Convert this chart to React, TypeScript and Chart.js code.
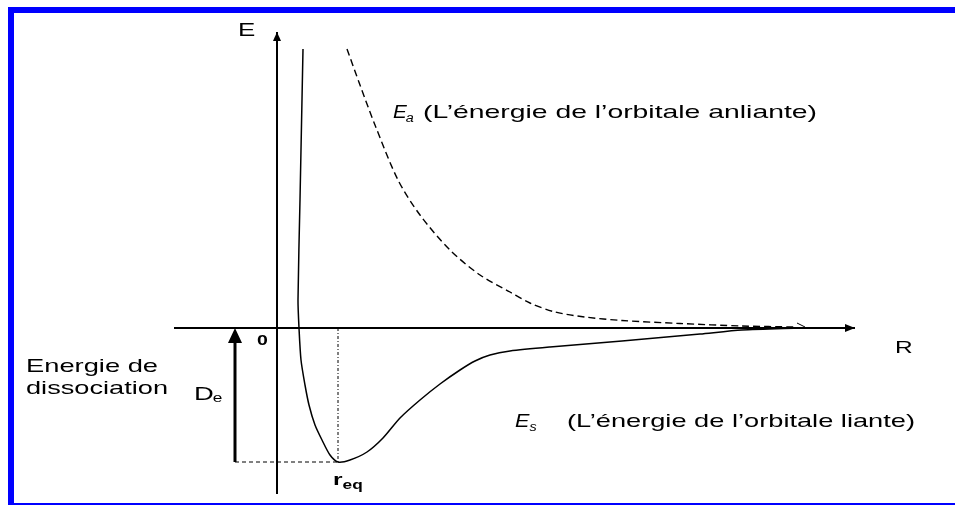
import React, { useEffect, useRef } from "react";
import { Chart, registerables } from "chart.js";

Chart.register(...registerables);

// Bonding orbital energy E_s (solid curve): R and E values
const solidR = [0.26, 0.23, 0.21, 0.22, 0.24, 0.28, 0.32, 0.38, 0.45, 0.53, 0.61, 0.73, 0.90, 1.06, 1.23, 1.43, 1.63, 1.83, 1.98, 2.13, 2.33, 2.73, 3.45, 4.23, 4.65, 5.23];
const solidE = [2.79, 1.28, 0.28, 0.0, -0.32, -0.57, -0.77, -0.97, -1.12, -1.27, -1.34, -1.32, -1.24, -1.10, -0.90, -0.72, -0.56, -0.42, -0.33, -0.27, -0.23, -0.19, -0.13, -0.06, -0.02, 0.0];

// Antibonding orbital energy E_a (dashed curve)
const dashR = [0.70, 0.83, 0.98, 1.21, 1.43, 1.73, 2.03, 2.33, 2.53, 2.78, 3.08, 3.45, 4.03, 4.65, 5.18];
const dashE = [2.79, 2.43, 2.03, 1.48, 1.13, 0.78, 0.53, 0.36, 0.25, 0.16, 0.11, 0.075, 0.045, 0.02, 0.01];

// Axes extents
const axisR = [-1.03, 5.78];
const axisE = [-1.66, 2.96];

// Equilibrium
const rEq = 0.61;
const eMin = -1.34;
const deArrowR = -0.42;

// View window
const viewR = [-2.77, 6.78];
const viewE = [-1.77, 3.28];

const FONT = '"Liberation Sans", Arial, Helvetica, sans-serif';
const SX = 1.44;

function txt(ctx: CanvasRenderingContext2D, text: string, x: number, y: number, font: string, sx = SX, width?: number): number {
  ctx.save();
  ctx.font = font;
  ctx.fillStyle = "#000";
  ctx.textBaseline = "alphabetic";
  ctx.textAlign = "left";
  const m = ctx.measureText(text).width;
  const s = width ? width / m : sx;
  ctx.translate(x, y);
  ctx.scale(s, 1);
  ctx.fillText(text, 0, 0);
  ctx.restore();
  return m * s;
}

function arrowHead(ctx: CanvasRenderingContext2D, tx: number, ty: number, dir: "up" | "right", len: number, half: number) {
  ctx.save();
  ctx.fillStyle = "#000";
  ctx.beginPath();
  if (dir === "up") {
    ctx.moveTo(tx, ty);
    ctx.lineTo(tx - half, ty + len);
    ctx.lineTo(tx + half, ty + len);
  } else {
    ctx.moveTo(tx, ty);
    ctx.lineTo(tx - len, ty - half);
    ctx.lineTo(tx - len, ty + half);
  }
  ctx.closePath();
  ctx.fill();
  ctx.restore();
}

const overlay = {
  id: "overlay",
  afterDatasetsDraw(chart: any) {
    const ctx: CanvasRenderingContext2D = chart.ctx;
    const xs = chart.scales.x;
    const ys = chart.scales.y;
    const px = (v: number) => xs.getPixelForValue(v);
    const py = (v: number) => ys.getPixelForValue(v);
    const W = chart.width;
    const H = chart.height;

    // frame (top, left, bottom; right side runs off the picture)
    ctx.save();
    ctx.fillStyle = "#0000FF";
    ctx.fillRect(8, 7, W - 8, 6);
    ctx.fillRect(8, 7, 6, H - 7);
    ctx.fillRect(8, H - 2, W - 8, 2);
    ctx.restore();

    // arrowheads
    arrowHead(ctx, px(axisR[1]), py(0), "right", 10, 4);
    arrowHead(ctx, px(0), py(axisE[1]), "up", 9, 4);
    arrowHead(ctx, px(deArrowR), py(0), "up", 15, 7);

    // small tick at end of dashed curve
    ctx.save();
    ctx.strokeStyle = "#000";
    ctx.lineWidth = 1;
    ctx.beginPath();
    ctx.moveTo(px(5.20), py(0.05));
    ctx.lineTo(px(5.28), py(0.01));
    ctx.stroke();
    ctx.restore();

    const reg = (s: number) => `${s}px ${FONT}`;
    const ita = (s: number) => `italic ${s}px ${FONT}`;
    const bold = (s: number) => `bold ${s}px ${FONT}`;

    // axis labels
    txt(ctx, "E", px(-0.39), py(2.92), reg(18));
    txt(ctx, "0", px(-0.20), py(-0.17), bold(15), 1.3);
    txt(ctx, "R", px(6.18), py(-0.25), reg(17));

    // dissociation energy
    txt(ctx, "Energie de", px(-2.51), py(-0.44), reg(19), SX, 132);
    txt(ctx, "dissociation", px(-2.51), py(-0.66), reg(19), SX, 142);
    const wD = txt(ctx, "D", px(-0.83), py(-0.72), reg(19));
    txt(ctx, "e", px(-0.83) + wD - 1, py(-0.74), reg(12));

    // r_eq
    const wr = txt(ctx, "r", px(0.56), py(-1.57), bold(17));
    txt(ctx, "eq", px(0.56) + wr, py(-1.61), bold(12));

    // E_a label
    const wEa = txt(ctx, "E", px(1.16), py(2.10), ita(18), 1.15);
    txt(ctx, "a", px(1.16) + wEa - 1, py(2.06), ita(12), 1.2);
    txt(ctx, "(L’énergie de l’orbitale anliante)", px(1.46), py(2.10), reg(19), SX, 394);

    // E_s label
    const wEs = txt(ctx, "E", px(2.38), py(-0.99), ita(18), 1.2);
    txt(ctx, "s", px(2.38) + wEs, py(-1.03), ita(12), 1.2);
    txt(ctx, "(L’énergie de l’orbitale liante)", px(2.90), py(-0.99), reg(19), SX, 348);
  },
};

export default function App() {
  const ref = useRef<HTMLCanvasElement | null>(null);

  useEffect(() => {
    if (!ref.current) return;
    const pts = (xs: number[], ys: number[]) => xs.map((x, i) => ({ x, y: ys[i] }));
    const base = { showLine: true, pointRadius: 0, borderColor: "#000", backgroundColor: "#000", fill: false };
    const chart = new Chart(ref.current, {
      type: "scatter",
      data: {
        datasets: [
          { ...base, label: "E_s", data: pts(solidR, solidE), borderWidth: 1.5, tension: 0.25 },
          { ...base, label: "E_a", data: pts(dashR, dashE), borderWidth: 1.4, borderDash: [7, 4], tension: 0.3 },
          { ...base, label: "R axis", data: pts(axisR, [0, 0]), borderWidth: 2.2 },
          { ...base, label: "E axis", data: pts([0, 0], axisE), borderWidth: 2 },
          { ...base, label: "De", data: pts([deArrowR, deArrowR], [eMin, -0.1]), borderWidth: 3 },
          { ...base, label: "min level", data: pts([deArrowR, rEq], [eMin, eMin]), borderWidth: 1, borderDash: [4, 3] },
          { ...base, label: "r_eq", data: pts([rEq, rEq], [0, eMin]), borderWidth: 1, borderDash: [3, 2, 1, 2] },
        ] as any,
      },
      options: {
        responsive: false,
        maintainAspectRatio: false,
        animation: false,
        layout: { padding: 0 },
        plugins: { legend: { display: false }, tooltip: { enabled: false } },
        scales: {
          x: { type: "linear", min: viewR[0], max: viewR[1], display: false },
          y: { type: "linear", min: viewE[0], max: viewE[1], display: false },
        },
      } as any,
      plugins: [overlay],
    });
    return () => chart.destroy();
  }, []);

  return (
    <div style={{ position: "fixed", left: 0, top: 0, width: 955, height: 505, background: "#fff" }}>
      <canvas ref={ref} width={955} height={505} style={{ display: "block", width: 955, height: 505 }} />
    </div>
  );
}
